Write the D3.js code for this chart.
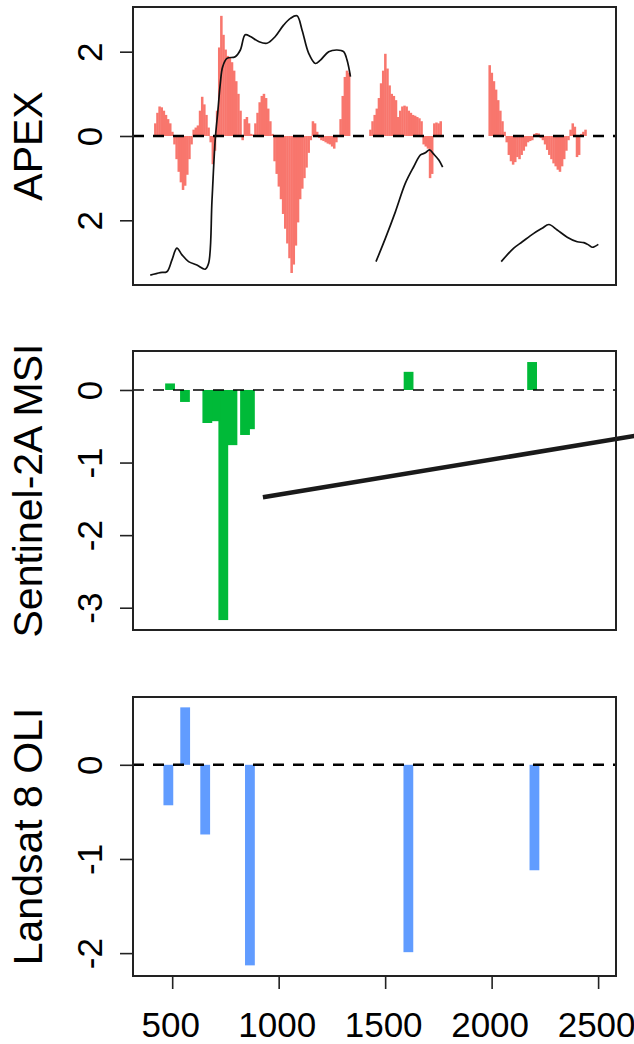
<!DOCTYPE html>
<html>
<head>
<meta charset="utf-8">
<script src="https://cdn.jsdelivr.net/npm/d3@7"></script>
<style>
  body { margin: 0; background: #fff; }
  svg { display: block; }
  text { font-family: "Liberation Sans", Arial, sans-serif; fill: #000; }
</style>
</head>
<body>
<svg id="chart" width="634" height="1044"></svg>
<script>
// APEX difference spectrum, [wavelength nm, value]
const apexDiff1 = [
  [420,0.3],[430,0.55],[440,0.7],[450,0.68],[460,0.6],[470,0.5],[480,0.4],[490,0.3],[500,0.1],
  [510,-0.2],[520,-0.55],[530,-0.85],[540,-1.1],[550,-1.28],[560,-1.18],[570,-0.92],[580,-0.55],[590,-0.2],
  [600,0.15],[610,0.2],[620,0.25],[630,0.6],[640,0.93],[650,0.75],[660,0.5],[670,0.2],
  [680,-0.15],[690,-0.67],[700,-0.35],
  [710,0.6],[720,2.1],[730,2.85],[740,2.4],[750,2.05],[760,1.9],[770,1.85],[780,1.75],[790,1.55],
  [800,1.3],[810,1.0],[820,0.6],[830,-0.1],[840,0.4],[850,0.45],[860,0.3],[870,0.05],[880,0.03],
  [890,0.3],[900,0.55],[910,0.8],[920,0.95],[930,1.0],[940,0.9],[950,0.65],[960,0.35],[970,0.05],
  [980,-0.6],[990,-0.9],[1000,-1.2],[1010,-1.5],[1020,-1.85],[1030,-2.2],[1040,-2.55],[1050,-2.9],
  [1060,-3.25],[1070,-3.05],[1080,-2.6],[1090,-2.05],[1100,-1.5],[1110,-1.25],[1120,-1.0],[1130,-0.75],
  [1140,-0.4],[1150,-0.1],[1160,0.35],[1170,0.3],[1180,0.1],[1190,-0.05],[1200,-0.1],[1210,-0.12],
  [1220,-0.15],[1230,-0.18],[1240,-0.2],[1250,-0.25],[1260,-0.3],[1270,-0.15],[1280,0.02],[1290,0.4],
  [1300,0.95],[1310,1.4],[1320,1.55],[1330,1.5]
];
const apexDiff2 = [
  [1430,0.15],[1440,0.35],[1450,0.5],[1460,0.65],[1470,0.9],[1480,1.25],[1490,1.55],[1500,1.95],
  [1510,1.6],[1520,1.2],[1530,1.0],[1540,0.95],[1550,0.85],[1560,0.45],[1570,0.6],[1580,0.7],
  [1590,0.72],[1600,0.7],[1610,0.6],[1620,0.55],[1630,0.5],[1640,0.48],[1650,0.45],[1660,0.42],
  [1670,0.35],[1680,-0.2],[1690,-0.25],[1700,-0.3],[1710,-1.0],[1720,-0.9],[1730,0.3],[1740,0.32],
  [1750,0.3],[1760,0.35]
];
const apexDiff3 = [
  [1990,1.68],[2000,1.5],[2010,1.3],[2020,1.1],[2030,0.85],[2040,0.6],[2050,0.35],[2060,0.1],
  [2070,-0.15],[2080,-0.45],[2090,-0.6],[2100,-0.68],[2110,-0.62],[2120,-0.5],[2130,-0.55],
  [2140,-0.45],[2150,-0.35],[2160,-0.25],[2170,-0.15],[2180,-0.12],[2190,-0.1],[2200,0.05],
  [2210,0.07],[2220,0.06],[2230,-0.05],[2240,-0.1],[2250,-0.2],[2260,-0.33],[2270,-0.45],
  [2280,-0.55],[2290,-0.65],[2300,-0.72],[2310,-0.8],[2320,-0.85],[2330,-0.72],[2340,-0.55],
  [2350,-0.35],[2360,-0.1],[2370,0.15],[2380,0.3],[2390,0.22],[2400,-0.5],[2410,-0.45],
  [2420,0.05],[2430,0.1],[2440,0.15]
];

// scaled reflectance curve drawn over the APEX panel
const apexRefl1 = [
  [397,-3.3],[444,-3.24],[475,-3.22],[499,-2.94],[522,-2.66],[546,-2.82],[577,-2.98],[616,-3.06],
  [655,-3.16],[671,-3.02],[687,-1.52],[702,-0.09],[715,0.62],[726,1.25],[737,1.64],[757,1.84],
  [796,1.88],[820,2.04],[843,2.4],[867,2.36],[906,2.24],[945,2.2],[984,2.36],[1023,2.63],
  [1055,2.79],[1086,2.85],[1110,2.51],[1141,1.96],[1172,1.72],[1196,1.8],[1235,2.0],[1274,2.04],
  [1305,2.0],[1321,1.8],[1337,1.41]
];
const apexRefl2 = [
  [1457,-2.98],[1501,-2.43],[1548,-1.8],[1595,-1.12],[1634,-0.73],[1666,-0.45],[1689,-0.4],
  [1708,-0.33],[1728,-0.43],[1752,-0.57],[1770,-0.74]
];
const apexRefl3 = [
  [2045,-2.98],[2104,-2.66],[2144,-2.51],[2198,-2.31],[2237,-2.19],[2269,-2.1],[2308,-2.23],
  [2355,-2.4],[2402,-2.51],[2433,-2.53],[2457,-2.59],[2473,-2.64],[2501,-2.57]
];

const sentinelNm   = [490, 560, 665, 705, 740, 783, 842, 865, 1610, 2190];
const sentinelDiff = [0.09, -0.165, -0.455, -0.43, -3.17, -0.76, -0.62, -0.54, 0.25, 0.385];
const sentinelLine = [[926, -1.478], [2700, -0.62]];

const landsatNm   = [482, 561, 655, 865, 1609, 2201];
const landsatDiff = [-0.43, 0.61, -0.74, -2.13, -1.99, -1.12];

const xTicks = [500, 1000, 1500, 2000, 2500];
const apexTicks = [2, 0, -2];
const apexTickLabels = ["2", "0", "2"];
const sentinelTicks = [0, -1, -2, -3];
const landsatTicks = [0, -1, -2];

const titles = ["APEX", "Sentinel-2A MSI", "Landsat 8 OLI"];

const svg = d3.select("#chart");
const left = 133, right = 616;
const x = d3.scaleLinear().domain([316, 2584]).range([left, right]);

const panels = [
  { top: 7,   bottom: 285, domain: [-3.535, 3.06] },
  { top: 351, bottom: 630, domain: [-3.307, 0.537] },
  { top: 697, bottom: 976, domain: [-2.243, 0.72] }
];
panels.forEach(p => {
  p.y = d3.scaleLinear().domain(p.domain).range([p.bottom, p.top]);
  p.g = svg.append("g");
});

const red = "#F8766D", green = "#00BA38", blue = "#619CFF";

// ---- APEX panel
const pa = panels[0];
[apexDiff1, apexDiff2, apexDiff3].forEach(seg => {
  pa.g.selectAll(null).data(seg).enter().append("rect")
    .attr("x", d => x(d[0] - 5))
    .attr("width", d => x(d[0] + 5) - x(d[0] - 5) + 0.4)
    .attr("y", d => pa.y(Math.max(0, d[1])))
    .attr("height", d => Math.abs(pa.y(d[1]) - pa.y(0)))
    .attr("fill", red);
});

// ---- Sentinel panel (drawn long-to-short wavelength so neighbours overlap like the original)
const ps = panels[1];
const sentinel = sentinelNm.map((nm, i) => ({ nm, v: sentinelDiff[i] })).reverse();
ps.g.selectAll(null).data(sentinel).enter().append("rect")
  .attr("x", d => x(d.nm - 23))
  .attr("width", d => x(d.nm + 23) - x(d.nm - 23))
  .attr("y", d => ps.y(Math.max(0, d.v)))
  .attr("height", d => Math.abs(ps.y(d.v) - ps.y(0)))
  .attr("fill", green);

// ---- Landsat panel
const pl = panels[2];
const landsat = landsatNm.map((nm, i) => ({ nm, v: landsatDiff[i] }));
pl.g.selectAll(null).data(landsat).enter().append("rect")
  .attr("x", d => x(d.nm - 23))
  .attr("width", d => x(d.nm + 23) - x(d.nm - 23))
  .attr("y", d => pl.y(Math.max(0, d.v)))
  .attr("height", d => Math.abs(pl.y(d.v) - pl.y(0)))
  .attr("fill", blue);

// zero lines
const zeroWidth = [2.6, 1.5, 2.6];
panels.forEach((p, i) => {
  p.g.append("line")
    .attr("x1", left).attr("x2", right)
    .attr("y1", p.y(0)).attr("y2", p.y(0))
    .attr("stroke", "#000")
    .attr("stroke-width", zeroWidth[i])
    .attr("stroke-dasharray", "11,9");
});

// reflectance curves
const curve = d3.line()
  .x(d => x(d[0]))
  .y(d => pa.y(d[1]))
  .curve(d3.curveCatmullRom.alpha(0.5));
[apexRefl1, apexRefl2, apexRefl3].forEach(seg => {
  pa.g.append("path")
    .attr("d", curve(seg))
    .attr("fill", "none")
    .attr("stroke", "#111")
    .attr("stroke-width", 1.7);
});

// thick annotation line in the Sentinel panel
ps.g.append("line")
  .attr("x1", x(sentinelLine[0][0])).attr("y1", ps.y(sentinelLine[0][1]))
  .attr("x2", x(sentinelLine[1][0])).attr("y2", ps.y(sentinelLine[1][1]))
  .attr("stroke", "#1a1a1a")
  .attr("stroke-width", 4.5);

// boxes
panels.forEach(p => {
  p.g.append("rect")
    .attr("x", left).attr("y", p.top)
    .attr("width", right - left).attr("height", p.bottom - p.top)
    .attr("fill", "none")
    .attr("stroke", "#222")
    .attr("stroke-width", 2);
});

// y axes
const yTickSets = [
  { ticks: apexTicks, labels: apexTickLabels },
  { ticks: sentinelTicks, labels: sentinelTicks.map(String) },
  { ticks: landsatTicks, labels: landsatTicks.map(String) }
];
panels.forEach((p, i) => {
  const set = yTickSets[i];
  const ax = p.g.append("g")
    .attr("transform", `translate(${left},0)`)
    .call(d3.axisLeft(p.y)
      .tickValues(set.ticks)
      .tickSize(13)
      .tickFormat((d, j) => set.labels[j]));
  ax.select(".domain").remove();
  ax.selectAll(".tick line").attr("stroke", "#222").attr("stroke-width", 1.6);
  ax.selectAll(".tick text")
    .attr("x", null).attr("dy", null)
    .attr("text-anchor", "middle")
    .attr("transform", "translate(-31,0) rotate(-90)")
    .style("font-size", "35px")
    .style("font-family", "'Liberation Sans', Arial, sans-serif")
    .attr("fill", "#000");

  svg.append("text")
    .attr("text-anchor", "middle")
    .attr("transform", `translate(42,${(p.top + p.bottom) / 2}) rotate(-90)`)
    .style("font-size", "41px")
    .text(titles[i]);
});

// x axis (bottom panel only)
const xa = svg.append("g")
  .attr("transform", `translate(0,${pl.bottom})`)
  .call(d3.axisBottom(x).tickValues(xTicks).tickSize(13).tickFormat(d3.format("d")));
xa.select(".domain").remove();
xa.selectAll(".tick line").attr("stroke", "#222").attr("stroke-width", 1.6);
xa.selectAll(".tick text")
  .attr("y", null).attr("dy", null)
  .attr("transform", "translate(-2,61)")
  .style("font-size", "35px")
  .style("font-family", "'Liberation Sans', Arial, sans-serif")
  .attr("fill", "#000");
</script>
</body>
</html>
